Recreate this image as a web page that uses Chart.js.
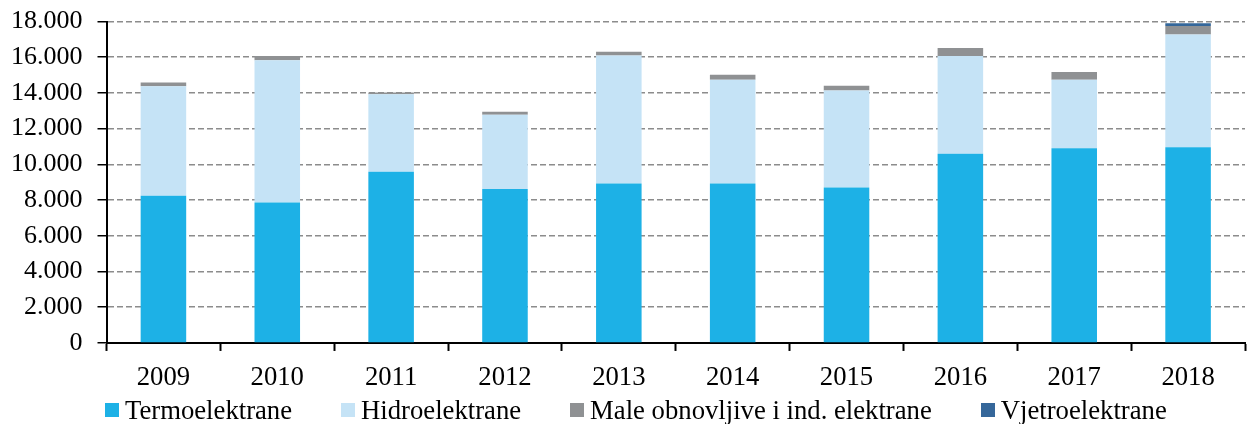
<!DOCTYPE html>
<html>
<head>
<meta charset="utf-8">
<script src="https://cdn.jsdelivr.net/npm/chart.js@4/dist/chart.umd.min.js"></script>
<style>
  html, body { margin: 0; padding: 0; background: #fff; }
  #wrap { position: relative; width: 1249px; height: 424px; }
  #legend {
    position: absolute; left: 0; top: 396px; width: 1249px; height: 28px;
    display: flex; align-items: center; padding-left: 105px; box-sizing: border-box;
    font-family: 'Liberation Serif', 'Times New Roman', serif; font-size: 26.7px; line-height: 28px;
    color: #000; white-space: nowrap;
  }
  #legend .item { display: flex; align-items: center; margin-right: 49px; }
  #legend .box { width: 14px; height: 14px; margin-right: 6px; }
</style>
</head>
<body>
<div id="wrap">
  <canvas id="chart" width="1249" height="424"></canvas>
  <div id="legend"></div>
</div>
<script>
const years = ["2009", "2010", "2011", "2012", "2013", "2014", "2015", "2016", "2017", "2018"];
const termo = [8240, 7870, 9590, 8620, 8930, 8930, 8710, 10600, 10900, 10960];
const hidro = [6140, 7960, 4330, 4160, 7160, 5810, 5430, 5470, 3840, 6310];
const male = [210, 240, 110, 160, 220, 280, 260, 450, 430, 480];
const vjetro = [0, 0, 0, 0, 0, 0, 0, 0, 0, 150];
const yTicks = [0, 2000, 4000, 6000, 8000, 10000, 12000, 14000, 16000, 18000];

const fontFamily = "'Liberation Serif', 'Times New Roman', serif";

// "18000" -> "18.000"
function fmt(v) {
  return String(v).replace(/\B(?=(\d{3})+(?!\d))/g, ".");
}

const ctx = document.getElementById("chart").getContext("2d");
const chart = new Chart(ctx, {
  type: "bar",
  data: {
    labels: years,
    datasets: [
      { label: "Termoelektrane", data: termo, backgroundColor: "#1db1e6" },
      { label: "Hidroelektrane", data: hidro, backgroundColor: "#c5e3f6" },
      { label: "Male obnovljive i ind. elektrane", data: male, backgroundColor: "#8f9193" },
      { label: "Vjetroelektrane", data: vjetro, backgroundColor: "#35679a" }
    ]
  },
  options: {
    responsive: false,
    animation: false,
    layout: { padding: { left: -4, right: 4, top: 0, bottom: 19 } },
    datasets: {
      bar: { barPercentage: 0.4, categoryPercentage: 1.0, borderWidth: 0 }
    },
    scales: {
      x: {
        stacked: true,
        border: { display: true, color: "#000", width: 2 },
        grid: {
          offset: true,
          drawOnChartArea: false,
          drawTicks: true,
          tickLength: 8,
          tickColor: "#000",
          tickWidth: 2
        },
        ticks: { color: "#000", font: { family: fontFamily, size: 26.7 }, padding: 11, maxRotation: 0 }
      },
      y: {
        stacked: true,
        min: 0,
        max: 18000,
        afterBuildTicks: (axis) => { axis.ticks = yTicks.map(v => ({ value: v })); },
        border: { display: true, color: "#000", width: 2, dash: [6, 3] },
        grid: {
          color: "#8c8c8c",
          lineWidth: 1.5,
          tickLength: 9,
          tickColor: "#000",
          tickWidth: 1.5,
          tickBorderDash: []
        },
        ticks: {
          color: "#000",
          font: { family: fontFamily, size: 26, lineHeight: 0.5 },
          padding: 15,
          autoSkip: false,
          callback: (v) => fmt(v)
        }
      }
    },
    plugins: {
      tooltip: { enabled: false },
      legend: { display: false }
    }
  }
});

// legend built from the chart's datasets
const legendEl = document.getElementById("legend");
chart.data.datasets.forEach((ds) => {
  const item = document.createElement("div");
  item.className = "item";
  const box = document.createElement("span");
  box.className = "box";
  box.style.background = ds.backgroundColor;
  const txt = document.createElement("span");
  txt.textContent = ds.label;
  item.appendChild(box);
  item.appendChild(txt);
  legendEl.appendChild(item);
});
</script>
</body>
</html>
